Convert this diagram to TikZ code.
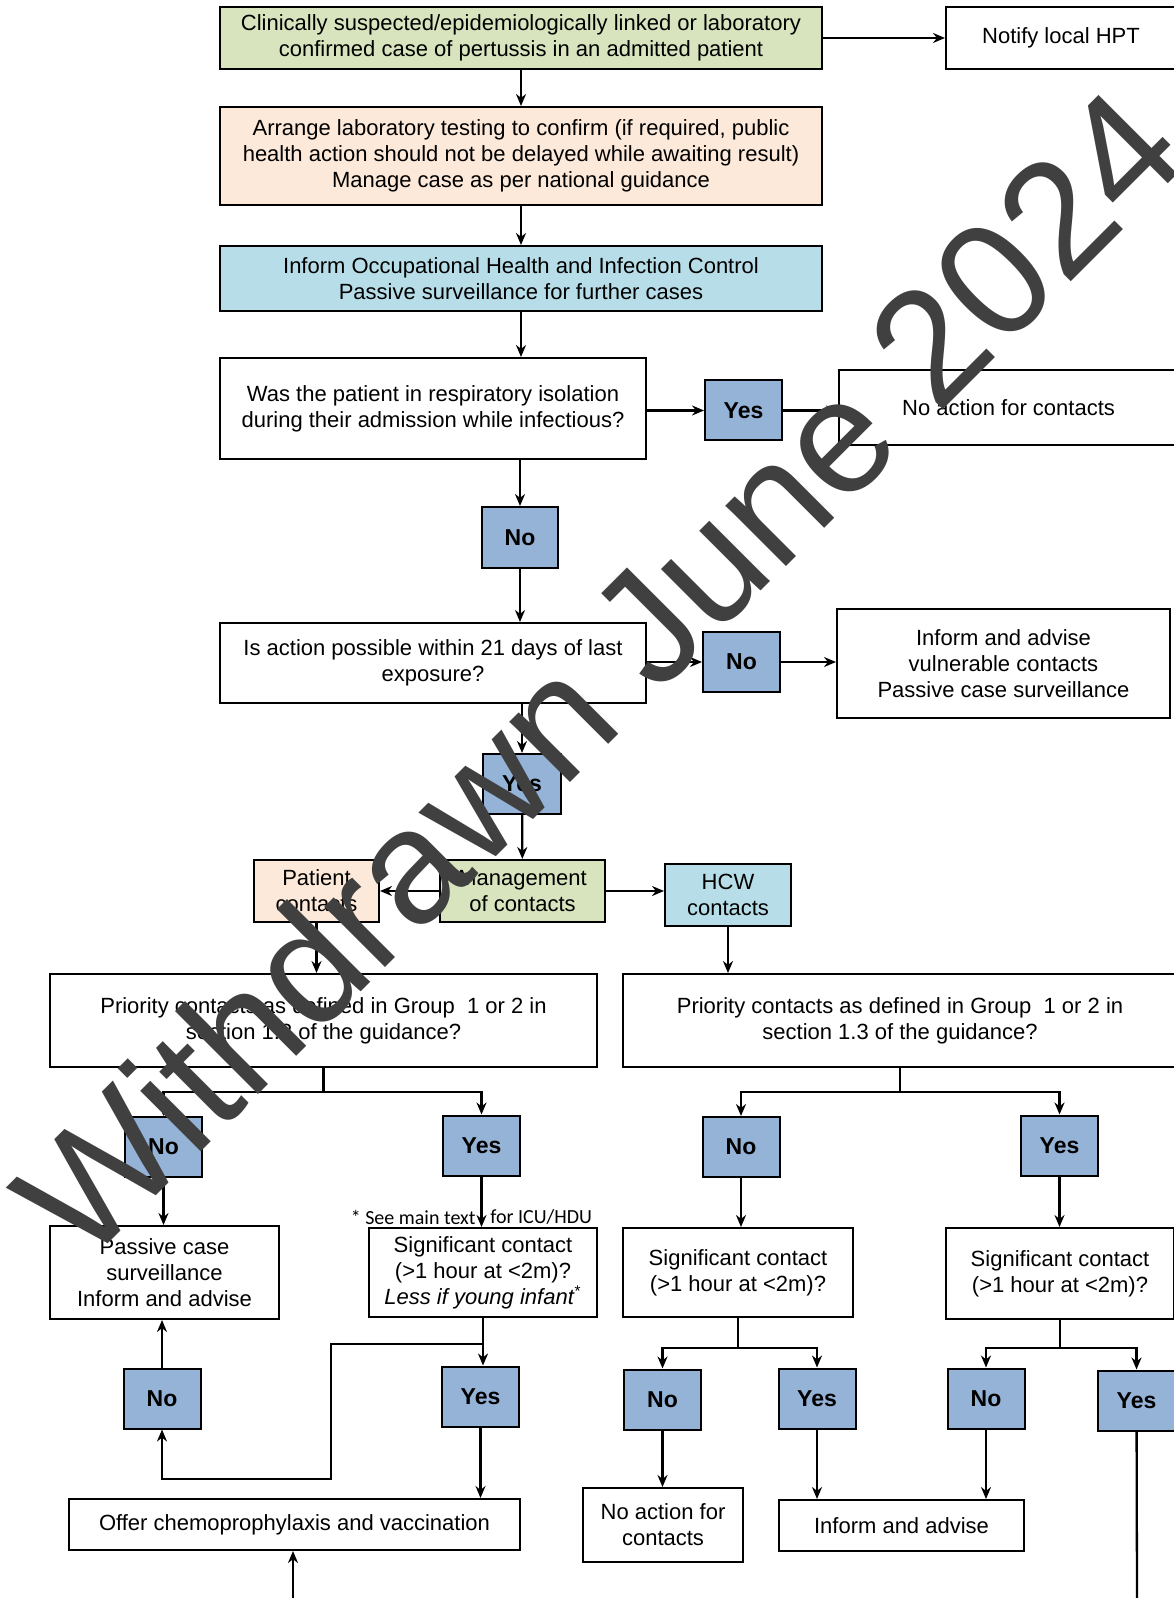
\documentclass[tikz,border=0pt]{standalone}
\usepackage{fontspec}
\setmainfont{Liberation Sans}
\newfontfamily\notefont{Carlito}
\usetikzlibrary{arrows.meta}

\definecolor{casegreen}{HTML}{D7E4BD}
\definecolor{labpeach}{HTML}{FDE9D9}
\definecolor{ohblue}{HTML}{B7DEE8}
\definecolor{ansblue}{HTML}{95B3D7}
\definecolor{wmgray}{HTML}{404040}

\tikzset{
	box/.style={draw, line width=1pt, align=center, inner sep=2pt, font=\fontsize{11}{13}\selectfont},
	sz/.style 2 args={minimum width=#1*0.5pt, minimum height=#2*0.5pt},
	ans/.style={box, fill=ansblue, font=\fontsize{11.5}{13}\selectfont\bfseries, sz={77}{60}},
	arr/.style={line width=1.15pt, -{Stealth[length=6pt,width=5pt]}},
	wire/.style={line width=1.15pt},
	note/.style={inner sep=0pt, font=\notefont\fontsize{10}{11}\selectfont},
}

\begin{document}
\begin{tikzpicture}[x=0.5pt, y=-0.5pt]
		\useasboundingbox (0,0) rectangle (1173,1598);

		% top of the chart
		\node[box, fill=casegreen, sz={602}{62}] (case) at (521,38) {Clinically suspected/epidemiologically linked or laboratory\\confirmed case of pertussis in an admitted patient};
		\node[box, sz={230}{62}] (hpt) at (1061,38) {Notify local HPT};
		\node[box, fill=labpeach, sz={602}{98}] (lab) at (521,156) {Arrange laboratory testing to confirm (if required, public\\health action should not be delayed while awaiting result)\\Manage case as per national guidance};
		\node[box, fill=ohblue, sz={602}{65}] (ohic) at (521,278.5) {Inform Occupational Health and Infection Control\\Passive surveillance for further cases};

		\node[box, sz={426}{101}] (isol) at (433,408.5) {Was the patient in respiratory isolation\\during their admission while infectious?};
		\node[ans] (isolyes) at (743.5,410.5) {Yes};
		\node[box, sz={339}{75}] (noact) at (1008.5,407.5) {No action for contacts};
		\node[ans, sz={76}{61}] (isolno) at (520,537.5) {No};

		\node[box, sz={426}{80}] (window) at (433,663) {Is action possible within 21 days of last\\exposure?};
		\node[ans] (windowno) at (741.5,662) {No};
		\node[box, sz={333}{109}] (vuln) at (1003.5,663.5) {Inform and advise\\vulnerable contacts\\Passive case surveillance};
		\node[ans, sz={78}{60}] (windowyes) at (522,784) {Yes};

		\node[box, fill=labpeach, sz={125}{62}] (patient) at (316.5,891) {Patient\\contacts};
		\node[box, fill=casegreen, sz={165}{62}] (mgmt) at (522.5,891) {Management\\of contacts};
		\node[box, fill=ohblue, sz={126}{62}] (hcw) at (728,895) {HCW\\contacts};

		% patient contacts
		\node[box, sz={547}{93}] (prioL) at (323.5,1020.5) {Priority contacts as defined in Group~ 1 or 2 in\\section 1.3 of the guidance?};
		\node[ans] (prioLno) at (163.5,1147) {No};
		\node[ans] (prioLyes) at (481.5,1145.5) {Yes};
		\node[note, anchor=east] (seetext) at (476,1217) {* See main text};
		\node[note, anchor=west] (icutext) at (490,1217) {for ICU/HDU};
		\node[box, sz={229}{93}] (passive) at (164.5,1272.5) {Passive case\\surveillance\\Inform and advise};
		\node[box, sz={228}{89}] (sigL) at (483,1272.5) {Significant contact\\(>1 hour at <2m)?\\\textit{Less if young infant}\textsuperscript{*}};
		\node[ans] (sigLno) at (162,1398.5) {No};
		\node[ans] (sigLyes) at (480.5,1396.5) {Yes};
		\node[box, sz={451}{51}] (offer) at (294.5,1524.5) {Offer chemoprophylaxis and vaccination};

		% HCW contacts
		\node[box, sz={554}{93}] (prioR) at (900,1020.5) {Priority contacts as defined in Group~ 1 or 2 in\\section 1.3 of the guidance?};
		\node[ans] (prioRno) at (741,1147) {No};
		\node[ans] (prioRyes) at (1059.5,1145.5) {Yes};
		\node[box, sz={230}{89}] (sigM) at (738,1272.5) {Significant contact\\(>1 hour at <2m)?};
		\node[box, sz={228}{91}] (sigR) at (1060,1273.5) {Significant contact\\(>1 hour at <2m)?};
		\node[ans] (sigMno) at (662.5,1399.5) {No};
		\node[ans] (sigMyes) at (817,1398.5) {Yes};
		\node[ans] (sigRno) at (986,1398.5) {No};
		\node[ans] (sigRyes) at (1136.5,1400.5) {Yes};
		\node[box, sz={160}{74}] (noactM) at (663,1525) {No action for\\contacts};
		\node[box, sz={245}{51}] (advise) at (901.5,1525.5) {Inform and advise};

		\coordinate (offerin) at (293,1600);
		\coordinate (offpage) at (1137,1600);

		% connectors
		\draw[arr] (case) -- (hpt);
		\draw[arr] (case) -- (lab);
		\draw[arr] (lab) -- (ohic);
		\draw[arr] (ohic.south) -- (ohic.south |- isol.north);
		\draw[arr] (isol.east |- isolyes.west) -- (isolyes.west);
		\draw[arr] (isolyes.east) -- (isolyes.east -| noact.west);
		\draw[arr] (isol.south -| isolno) -- (isolno);
		\draw[arr] (isolno) -- (isolno |- window.north);
		\draw[arr] (window.east |- windowno.west) -- (windowno.west);
		\draw[arr] (windowno) -- (windowno -| vuln.west);
		\draw[arr] (window.south -| windowyes) -- (windowyes);
		\draw[arr] (windowyes) -- (mgmt);
		\draw[arr] (mgmt) -- (patient);
		\draw[arr] (mgmt.east) -- (mgmt.east -| hcw.west);
		\draw[arr] (patient) -- (patient |- prioL.north);
		\draw[arr] (hcw) -- (hcw |- prioR.north);

		\draw[arr] (prioL.south) -- ++(0,24) -| (prioLno.north);
		\draw[arr] (prioL.south) -- ++(0,24) -| (prioLyes.north);
		\draw[arr] (prioLno) -- (prioLno |- passive.north);
		\draw[arr] (prioLyes) -- (prioLyes |- sigL.north);
		\draw[arr] (sigL.south) -- (sigL.south |- sigLyes.north);
		\draw[arr] (sigL.south) -- ++(0,26) -| ++(-152,135) -| (sigLno.south);
		\draw[arr] (sigLno.north) -- (sigLno.north |- passive.south);
		\draw[arr] (sigLyes) -- (sigLyes |- offer.north);
		\draw[arr] (offerin) -- (offerin |- offer.south);

		\draw[arr] (prioR.south) -- ++(0,24) -| (prioRno.north);
		\draw[arr] (prioR.south) -- ++(0,24) -| (prioRyes.north);
		\draw[arr] (prioRno) -- (prioRno |- sigM.north);
		\draw[arr] (prioRyes) -- (prioRyes |- sigR.north);
		\draw[arr] (sigM.south) -- ++(0,30) -| (sigMno.north);
		\draw[arr] (sigM.south) -- ++(0,30) -| (sigMyes.north);
		\draw[arr] (sigR.south) -- ++(0,28) -| (sigRno.north);
		\draw[arr] (sigR.south) -- ++(0,28) -| (sigRyes.north);
		\draw[arr] (sigMno) -- (sigMno |- noactM.north);
		\draw[arr] (sigMyes) -- (sigMyes |- advise.north);
		\draw[arr] (sigRno) -- (sigRno |- advise.north);
		\draw[wire] (sigRyes) -- (offpage);

		% stamp across the chart
		\node[rotate=45, text=wmgray, inner sep=0pt, font=\fontsize{81}{81}\selectfont] (stamp) at (598,673) {Withdrawn June 2024};
	\end{tikzpicture}
\end{document}
